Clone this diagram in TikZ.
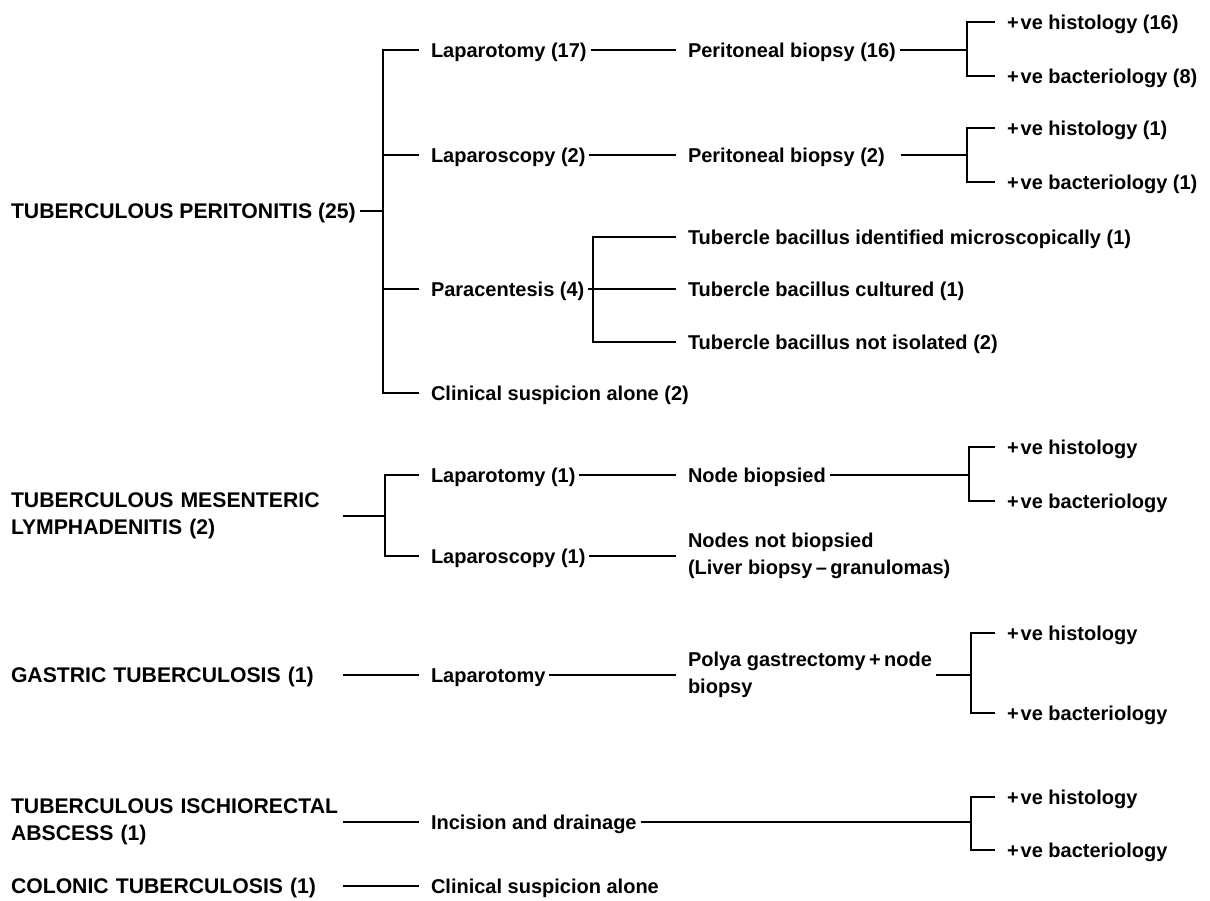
\documentclass[tikz,border=0pt]{standalone}
\usepackage{fontspec}
\setmainfont{Liberation Sans}
\newcommand{\pos}{+\kern1pt ve}

\begin{document}
\begin{tikzpicture}[
  x=0.5pt, y=-0.5pt,
  lbl/.style={anchor=west, inner sep=0pt, outer xsep=2pt, align=left,
    font=\bfseries\fontsize{10}{13.5}\selectfont},
  txt/.style={lbl, text height=7.2pt, text depth=0pt},
  caps/.style={lbl, font=\bfseries\fontsize{10.6}{13.5}\selectfont},
  grp/.style={caps, text width=164pt},
  oneline/.style={text height=7.6pt, text depth=0pt},
  lnk/.style={line width=1.1pt},
  tick/.style={lnk, shorten >=4pt},
]
  \useasboundingbox (0,0) rectangle (1210,900);

  % tuberculous peritonitis
  \node[caps, oneline] (tp) at (7,211) {TUBERCULOUS PERITONITIS (25)};
  \coordinate (sA) at (383,211);
  \node[txt] (lapA)  at (427,50)  {Laparotomy (17)};
  \node[txt] (lscA)  at (427,155) {Laparoscopy (2)};
  \node[txt] (para)  at (427,289) {Paracentesis (4)};
  \node[txt] (clinA) at (427,393) {Clinical suspicion alone (2)};
  \node[txt] (pbA) at (684,50)  {Peritoneal biopsy (16)};
  \node[txt] (pbB) at (684,155) {Peritoneal biopsy (2)};
  \coordinate (sB) at (593,289);
  \node[txt] (tbA) at (684,237) {Tubercle bacillus identified microscopically (1)};
  \node[txt] (tbB) at (684,289) {Tubercle bacillus cultured (1)};
  \node[txt] (tbC) at (684,342) {Tubercle bacillus not isolated (2)};
  \coordinate (rA) at (967,50);
  \coordinate (rB) at (967,155);
  \node[txt] (hisA) at (1003,22)  {\pos\ histology (16)};
  \node[txt] (bacA) at (1003,76)  {\pos\ bacteriology (8)};
  \node[txt] (hisB) at (1003,128) {\pos\ histology (1)};
  \node[txt] (bacB) at (1003,182) {\pos\ bacteriology (1)};

  \draw[lnk] (tp) -- (sA);
  \foreach \n in {lapA,lscA,para,clinA} \draw[tick] (sA) |- (\n);
  \draw[tick] (lapA) -- (pbA);
  \draw[tick] (lscA) -- (pbB);
  \draw[lnk] (para) -- (sB);
  \foreach \n in {tbA,tbB,tbC} \draw[tick] (sB) |- (\n);
  \draw[lnk] (pbA) -- (rA);
  \draw[lnk, shorten <=6pt] (pbB) -- (rB);
  \foreach \n in {hisA,bacA} \draw[tick] (rA) |- (\n);
  \foreach \n in {hisB,bacB} \draw[tick] (rB) |- (\n);

  % mesenteric lymphadenitis
  \node[grp] (tm) at (7,516) {TUBERCULOUS MESENTERIC\\LYMPHADENITIS (2)};
  \coordinate (sC) at (385,516);
  \node[txt] (lapC) at (427,475) {Laparotomy (1)};
  \node[txt] (lscC) at (427,556) {Laparoscopy (1)};
  \node[txt] (nb) at (684,475) {Node biopsied};
  \node[lbl] (nnb) at (684,556) {Nodes not biopsied\\(Liver biopsy\,--\,granulomas)};
  \coordinate (rC) at (969,475);
  \node[txt] (hisC) at (1003,447) {\pos\ histology};
  \node[txt] (bacC) at (1003,501) {\pos\ bacteriology};

  \draw[lnk] (tm) -- (sC);
  \foreach \n in {lapC,lscC} \draw[tick] (sC) |- (\n);
  \draw[tick] (lapC) -- (nb);
  \draw[tick] (lscC) -- (nnb);
  \draw[lnk] (nb) -- (rC);
  \foreach \n in {hisC,bacC} \draw[tick] (rC) |- (\n);

  % gastric
  \node[grp, oneline] (gt) at (7,675) {GASTRIC TUBERCULOSIS (1)};
  \node[txt] (lapD) at (427,675) {Laparotomy};
  \node[lbl] (polya) at (684,675) {Polya gastrectomy\,+\,node\\biopsy};
  \coordinate (rD) at (971,675);
  \node[txt] (hisD) at (1003,633) {\pos\ histology};
  \node[txt] (bacD) at (1003,713) {\pos\ bacteriology};

  \draw[tick] (gt) -- (lapD);
  \draw[tick] (lapD) -- (polya);
  \draw[lnk] (polya) -- (rD);
  \foreach \n in {hisD,bacD} \draw[tick] (rD) |- (\n);

  % ischiorectal abscess
  \node[grp] (ti) at (7,822) {TUBERCULOUS ISCHIORECTAL\\ABSCESS (1)};
  \node[txt] (idr) at (427,822) {Incision and drainage};
  \coordinate (rE) at (971,822);
  \node[txt] (hisE) at (1003,797) {\pos\ histology};
  \node[txt] (bacE) at (1003,850) {\pos\ bacteriology};

  \draw[tick] (ti) -- (idr);
  \draw[lnk] (idr) -- (rE);
  \foreach \n in {hisE,bacE} \draw[tick] (rE) |- (\n);

  % colonic
  \node[grp, oneline] (ct) at (7,886) {COLONIC TUBERCULOSIS (1)};
  \node[txt] (clinE) at (427,886) {Clinical suspicion alone};
  \draw[tick] (ct) -- (clinE);
\end{tikzpicture}
\end{document}
